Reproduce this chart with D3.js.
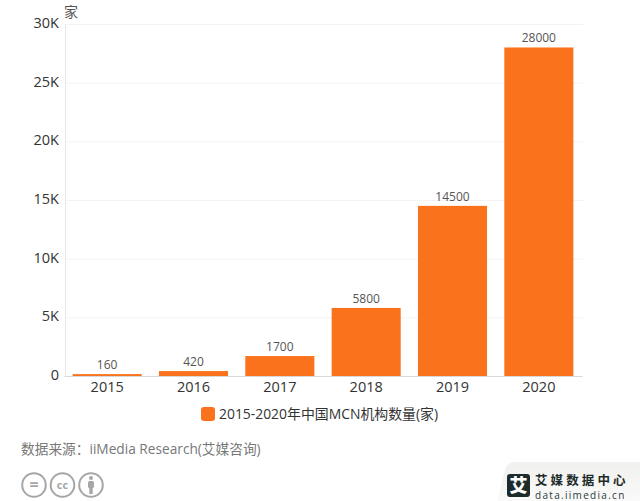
<!DOCTYPE html>
<html><head><meta charset="utf-8">
<script src="https://cdnjs.cloudflare.com/ajax/libs/d3/7.8.5/d3.min.js"></script>
<style>
html,body{margin:0;padding:0;background:#fff}
svg{display:block}
text{font-family:"Open Sans","Noto Sans CJK SC",sans-serif}
</style></head><body>
<svg id="c" width="640" height="501"></svg>
<script>
const categories=["2015","2016","2017","2018","2019","2020"];
const seriesValues=[160,420,1700,5800,14500,28000];
const yTicks=[0,5000,10000,15000,20000,25000,30000];
const yTickLabels=["0","5K","10K","15K","20K","25K","30K"];
const unitLabel="家";
const legendLabel="2015-2020年中国MCN机构数量(家)";
const sourceLabel="数据来源：iiMedia Research(艾媒咨询)";

const svg=d3.select("#c");
const x=d3.scaleBand().domain(categories).range([64,582]).paddingInner(0.2).paddingOuter(0.1);
const y=d3.scaleLinear().domain([0,30000]).range([376,24]);

svg.append("g").selectAll("line").data(yTicks.slice(1)).join("line")
  .attr("x1",65).attr("x2",583).attr("y1",d=>y(d)+.5).attr("y2",d=>y(d)+.5)
  .attr("stroke","#f3f3f3");
svg.append("line").attr("x1",65.5).attr("x2",65.5).attr("y1",24).attr("y2",376).attr("stroke","#e8e8e8");

const yAxis=d3.axisLeft(y).tickValues(yTicks).tickFormat((d,i)=>yTickLabels[i]).tickSize(0).tickPadding(6);
const gy=svg.append("g").attr("transform","translate(65,-1)").call(yAxis);
gy.select(".domain").remove();
gy.selectAll("text").attr("font-size",14.5).attr("fill","#333").style("font-family",'"Open Sans",sans-serif');

svg.append("g").selectAll("rect").data(seriesValues).join("rect")
  .attr("x",(d,i)=>x(categories[i])).attr("width",x.bandwidth())
  .attr("y",d=>y(d)).attr("height",d=>y(0)-y(d)).attr("fill","#fb721c");

const xAxis=d3.axisBottom(x).tickSize(0).tickPadding(6);
const gx=svg.append("g").attr("transform","translate(0,376)").call(xAxis);
gx.select(".domain").attr("stroke","#d8d8d8");
gx.selectAll("text").attr("font-size",14.5).attr("fill","#333").style("font-family",'"Open Sans",sans-serif');

svg.append("g").selectAll("text").data(seriesValues).join("text")
  .attr("x",(d,i)=>x(categories[i])+x.bandwidth()/2).attr("y",d=>y(d)-5)
  .attr("text-anchor","middle").attr("font-size",12).attr("fill","#555").text(d=>d);

svg.append("text").attr("x",64).attr("y",17).attr("font-size",14).attr("fill","#555").text(unitLabel);

svg.append("rect").attr("x",201).attr("y",407).attr("width",14).attr("height",14).attr("rx",3).attr("fill","#fb721c");
svg.append("text").attr("x",219).attr("y",419).attr("font-size",13.9).attr("fill","#333").text(legendLabel);

svg.append("text").attr("x",21).attr("y",454).attr("font-size",13.7).attr("fill","#777").text(sourceLabel);

const ccIcons=["=","cc",""];
const icons=svg.append("g");
ccIcons.forEach((t,i)=>{
  const cx=34+i*28.5, cy=485;
  icons.append("circle").attr("cx",cx).attr("cy",cy).attr("r",11.8).attr("fill","#fff").attr("stroke","#a6a6a6").attr("stroke-width",2);
  if(t) icons.append("text").attr("x",cx).attr("y",cy+(t==="="?5:4)).attr("text-anchor","middle")
    .attr("font-size",t==="="?16:11).attr("font-weight",700).attr("fill","#a6a6a6").text(t);
  else {
    icons.append("circle").attr("cx",cx).attr("cy",cy-7).attr("r",2).attr("fill","#a6a6a6");
    icons.append("rect").attr("x",cx-3).attr("y",cy-4).attr("width",6).attr("height",7).attr("rx",1.5).attr("fill","#a6a6a6");
    icons.append("rect").attr("x",cx-1.7).attr("y",cy+2).attr("width",3.4).attr("height",7).attr("fill","#a6a6a6");
  }
});

const defs=svg.append("defs");
const g=defs.append("linearGradient").attr("id","wm").attr("x1",0).attr("x2",0).attr("y1",0).attr("y2",1);
g.append("stop").attr("offset",0).attr("stop-color","#f0f0ee");
g.append("stop").attr("offset",1).attr("stop-color","#fafafa");
svg.append("path").attr("d","M497 501 L505 470 Q507 462 516 462 L640 462 L640 501 Z").attr("fill","url(#wm)");
svg.append("rect").attr("x",507).attr("y",474).attr("width",23).attr("height",23).attr("rx",3).attr("fill","#1d2b2a");
svg.append("text").attr("x",518.5).attr("y",491.5).attr("text-anchor","middle").attr("font-size",18).attr("font-weight",900).attr("fill","#fff").text("艾");
svg.append("text").attr("x",535).attr("y",484.5).attr("font-size",12.5).attr("font-weight",700).attr("letter-spacing","3.1px").attr("fill","#1d2b2a").text("艾媒数据中心");
svg.append("text").attr("x",535).attr("y",498.5).attr("font-size",10).attr("letter-spacing","1.3px").attr("fill","#2b3a38").text("data.iimedia.cn");
</script>
</body></html>
